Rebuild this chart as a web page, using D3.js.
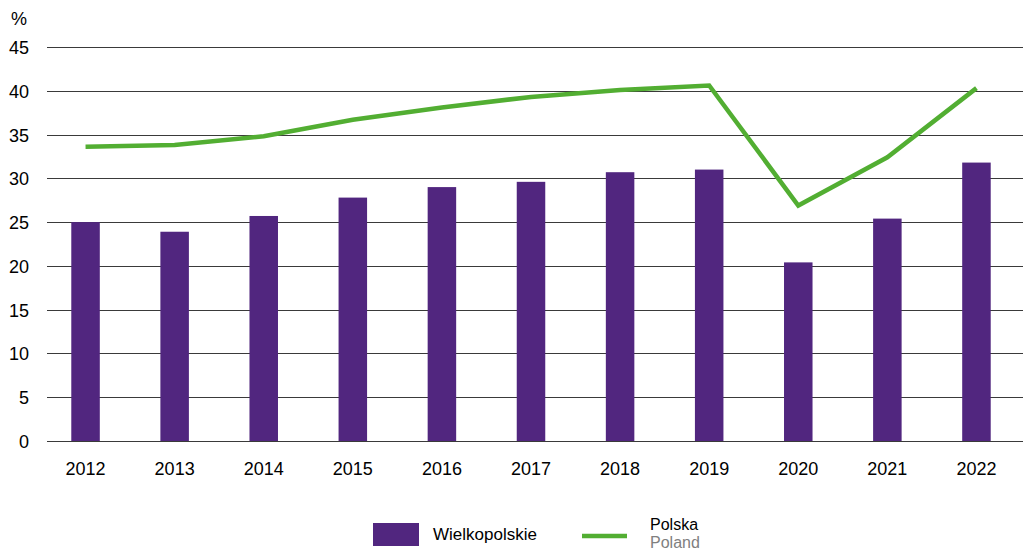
<!DOCTYPE html>
<html>
<head>
<meta charset="utf-8">
<script src="https://cdn.jsdelivr.net/npm/d3@7"></script>
<style>
  body { margin: 0; background: #fff; }
  text { font-family: "Liberation Sans", Arial, sans-serif; }
</style>
</head>
<body>
<div id="container"></div>
<script>
var years = ['2012', '2013', '2014', '2015', '2016', '2017', '2018', '2019', '2020', '2021', '2022']
var wielkopolskie = [25.0, 23.9, 25.7, 27.8, 29.0, 29.6, 30.7, 31.0, 20.4, 25.4, 31.8]
var polska = [33.6, 33.8, 34.8, 36.7, 38.1, 39.3, 40.1, 40.6, 26.9, 32.4, 40.3]
var yTicks = [0, 5, 10, 15, 20, 25, 30, 35, 40, 45]

var width = 1023, height = 552

var svg = d3.select('#container')
  .append('svg')
  .attr('width', width)
  .attr('height', height)

var x = d3.scaleBand()
  .domain(years)
  .range([41, 1021])
  .paddingInner(0.68)
  .paddingOuter(0.34)

var y = d3.scaleLinear()
  .domain([0, 45])
  .range([441, 47])

// gridlines
svg.append('g')
  .selectAll('line')
  .data(yTicks)
  .enter().append('line')
  .attr('x1', 47)
  .attr('x2', width)
  .attr('y1', d => Math.round(y(d)) + 0.5)
  .attr('y2', d => Math.round(y(d)) + 0.5)
  .attr('stroke', '#3a3a3a')
  .attr('stroke-width', 1.2)

// y labels
svg.append('g')
  .selectAll('text')
  .data(yTicks)
  .enter().append('text')
  .attr('x', 29)
  .attr('y', d => y(d) + 7)
  .attr('text-anchor', 'end')
  .attr('font-size', 18)
  .attr('fill', '#000')
  .text(d => d)

svg.append('text')
  .attr('x', 11)
  .attr('y', 25)
  .attr('font-size', 18)
  .text('%')

// x labels
svg.append('g')
  .selectAll('text')
  .data(years)
  .enter().append('text')
  .attr('x', d => x(d) + x.bandwidth() / 2)
  .attr('y', 475)
  .attr('text-anchor', 'middle')
  .attr('font-size', 18)
  .text(d => d)

// bars
svg.append('g')
  .selectAll('rect')
  .data(wielkopolskie)
  .enter().append('rect')
  .attr('x', (d, i) => x(years[i]))
  .attr('width', x.bandwidth())
  .attr('y', d => y(d))
  .attr('height', d => y(0) - y(d))
  .attr('fill', '#51267f')

// line
var line = d3.line()
  .x((d, i) => x(years[i]) + x.bandwidth() / 2)
  .y(d => y(d))

svg.append('path')
  .datum(polska)
  .attr('d', line)
  .attr('fill', 'none')
  .attr('stroke', '#52ae32')
  .attr('stroke-width', 4.5)

// legend
var legend = svg.append('g')
legend.append('rect')
  .attr('x', 373)
  .attr('y', 523)
  .attr('width', 46)
  .attr('height', 23)
  .attr('fill', '#51267f')
legend.append('text')
  .attr('x', 433)
  .attr('y', 540)
  .attr('font-size', 17)
  .text('Wielkopolskie')
legend.append('line')
  .attr('x1', 582)
  .attr('x2', 627)
  .attr('y1', 536)
  .attr('y2', 536)
  .attr('stroke', '#52ae32')
  .attr('stroke-width', 4.5)
legend.append('text')
  .attr('x', 650)
  .attr('y', 530)
  .attr('font-size', 16)
  .text('Polska')
legend.append('text')
  .attr('x', 650)
  .attr('y', 548)
  .attr('font-size', 16)
  .attr('fill', '#808080')
  .text('Poland')
</script>
</body>
</html>
